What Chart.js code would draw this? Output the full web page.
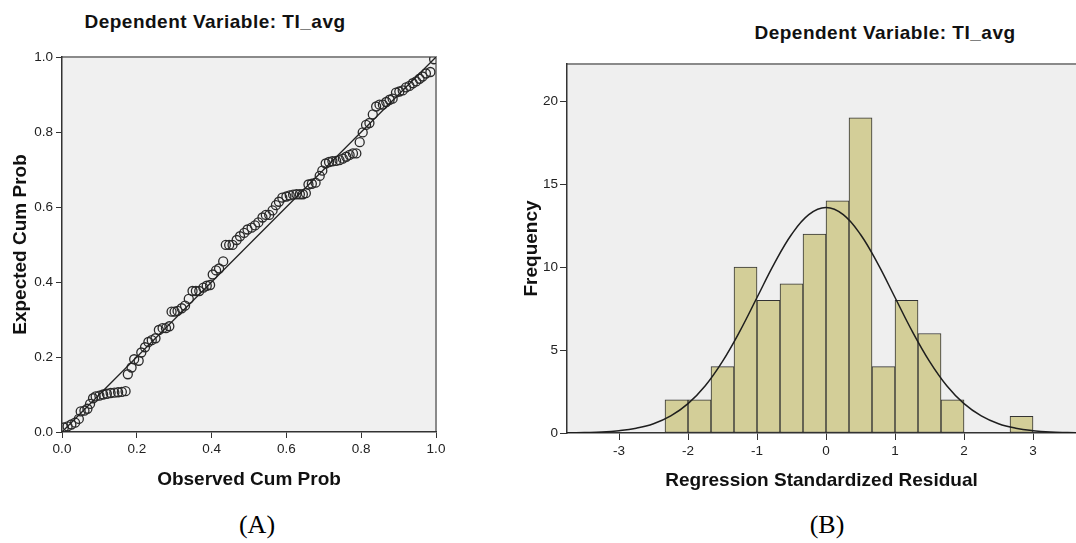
<!DOCTYPE html>
<html>
<head>
<meta charset="utf-8">
<title>Dependent Variable: TI_avg</title>
<script src="https://cdn.jsdelivr.net/npm/chart.js@4/dist/chart.umd.min.js"></script>
<style>
    html, body { margin: 0; padding: 0; background: #fff; overflow: hidden; }
    body { position: relative; width: 1076px; height: 543px; font-family: "Liberation Sans", Arial, sans-serif; }
    .wrap { position: absolute; top: 0; height: 500px; }
    #wrapA { left: 0; width: 450px; }
    #wrapB { left: 500px; width: 576px; }
    .ttl { position: absolute; font-size: 19px; font-weight: bold; color: #111; white-space: nowrap; letter-spacing: 0.5px; transform: translate(-50%, -50%); }
    .cap { position: absolute; font-family: "Liberation Serif", "Times New Roman", serif; font-size: 26px; color: #000; transform: translate(-50%, -50%); }
</style>
</head>
<body>
<div class="ttl" style="left:215px; top:22px;">Dependent Variable: TI_avg</div>
<div class="ttl" style="left:885px; top:33px;">Dependent Variable: TI_avg</div>
<div class="wrap" id="wrapA"><canvas id="pp-plot" width="450" height="500"></canvas></div>
<div class="wrap" id="wrapB"><canvas id="resid-hist" width="576" height="500"></canvas></div>
<div class="cap" style="left:257px; top:525px;">(A)</div>
<div class="cap" style="left:827px; top:525px;">(B)</div>

<script>
    // (A) normal P-P plot
    var ppObserved = [
        0.005, 0.015, 0.025, 0.035, 0.045, 0.050, 0.060, 0.068, 0.075, 0.083,
        0.090, 0.100, 0.110, 0.120, 0.130, 0.140, 0.150, 0.160, 0.170,
        0.176, 0.186, 0.193, 0.205, 0.212, 0.222, 0.231, 0.240, 0.250, 0.259, 0.269, 0.278, 0.287,
        0.293, 0.301, 0.309, 0.320, 0.329, 0.339, 0.349, 0.358, 0.367, 0.378, 0.387, 0.396,
        0.403, 0.412, 0.420, 0.431,
        0.438, 0.447, 0.456, 0.467, 0.476, 0.487, 0.496, 0.507, 0.516, 0.525, 0.536, 0.545,
        0.554, 0.563, 0.572, 0.580, 0.589, 0.600, 0.609, 0.618, 0.627, 0.636, 0.644, 0.652,
        0.659, 0.668, 0.678, 0.689, 0.696, 0.705, 0.714, 0.723, 0.733, 0.742, 0.751, 0.760,
        0.769, 0.778, 0.787,
        0.796, 0.804, 0.813, 0.822, 0.831, 0.840, 0.849, 0.858, 0.867, 0.876, 0.884, 0.893,
        0.902, 0.911, 0.920, 0.929, 0.938, 0.947, 0.956, 0.964, 0.973, 0.985, 0.995
    ];
    var ppExpected = [
        0.012, 0.015, 0.020, 0.025, 0.035, 0.055, 0.057, 0.062, 0.075, 0.090,
        0.095, 0.097, 0.100, 0.102, 0.104, 0.105, 0.106, 0.107, 0.109,
        0.154, 0.172, 0.194, 0.190, 0.212, 0.226, 0.240, 0.245, 0.250, 0.272, 0.277, 0.277, 0.282,
        0.321, 0.321, 0.323, 0.330, 0.337, 0.355, 0.376, 0.376, 0.376, 0.385, 0.390, 0.392,
        0.420, 0.431, 0.436, 0.455,
        0.499, 0.499, 0.499, 0.512, 0.522, 0.531, 0.540, 0.545, 0.551, 0.559, 0.572, 0.579,
        0.579, 0.591, 0.605, 0.614, 0.625, 0.628, 0.631, 0.633, 0.634, 0.634, 0.634, 0.637,
        0.660, 0.662, 0.665, 0.683, 0.697, 0.716, 0.720, 0.722, 0.723, 0.725, 0.729, 0.734,
        0.739, 0.743, 0.743,
        0.773, 0.799, 0.819, 0.824, 0.847, 0.868, 0.873, 0.873, 0.880, 0.886, 0.889, 0.905,
        0.908, 0.911, 0.919, 0.923, 0.930, 0.935, 0.942, 0.948, 0.956, 0.960, 0.994
    ];
    var refLineX = [0, 1];
    var refLineY = [0, 1];
    var ppTicks = [0, 0.2, 0.4, 0.6, 0.8, 1.0];

    // (B) histogram of standardized residuals
    var binCenters = [-2.1667, -1.8333, -1.5, -1.1667, -0.8333, -0.5, -0.1667, 0.1667,
                      0.5, 0.8333, 1.1667, 1.5, 1.8333, 2.1667, 2.5, 2.8333];
    var binCounts = [2, 2, 4, 10, 8, 9, 12, 14, 19, 4, 8, 6, 2, 0, 0, 1];
    var curveX = [-3.75, -3.5, -3.25, -3, -2.75, -2.5, -2.25, -2, -1.75, -1.5, -1.25, -1, -0.75, -0.5, -0.25,
                  0, 0.25, 0.5, 0.75, 1, 1.25, 1.5, 1.75, 2, 2.25, 2.5, 2.75, 3, 3.25, 3.5, 3.75];
    var curveY = [0.01, 0.03, 0.06, 0.14, 0.29, 0.56, 1.03, 1.77, 2.85, 4.32, 6.13, 8.17, 10.21, 11.97, 13.17,
                  13.6, 13.17, 11.97, 10.21, 8.17, 6.13, 4.32, 2.85, 1.77, 1.03, 0.56, 0.29, 0.14, 0.06, 0.03, 0.01];
    var residTicks = [-3, -2, -1, 0, 1, 2, 3];
    var freqTicks = [0, 5, 10, 15, 20];

    var FONT = '"Liberation Sans", Arial, sans-serif';
    Chart.defaults.font.family = FONT;
    Chart.defaults.animation = false;

    // grey plot background plus the frame on top (and right)
    var plotFrame = {
        id: 'plotFrame',
        beforeDraw: function(chart, args, opts) {
            var a = chart.chartArea;
            var ctx = chart.ctx;
            ctx.save();
            ctx.fillStyle = opts.fill;
            ctx.fillRect(a.left, a.top, a.right - a.left, a.bottom - a.top);
            ctx.strokeStyle = opts.stroke;
            ctx.lineWidth = opts.width;
            ctx.beginPath();
            ctx.moveTo(a.left, a.top);
            ctx.lineTo(a.right, a.top);
            if (opts.right) {
                ctx.lineTo(a.right, a.bottom);
            }
            ctx.stroke();
            ctx.restore();
        }
    };

    function axisTicks(list) {
        return function(scale) {
            scale.ticks = list.map(function(v) { return { value: v }; });
        };
    }

    function toPoints(xs, ys) {
        return xs.map(function(x, i) { return { x: x, y: ys[i] }; });
    }

    var tickFont = { family: FONT, size: 13.5 };
    var titleFont = { family: FONT, size: 19, weight: 'bold' };

    new Chart(document.getElementById('pp-plot'), {
        type: 'scatter',
        data: {
            datasets: [{
                label: 'Observed',
                data: toPoints(ppObserved, ppExpected),
                pointStyle: 'circle',
                pointRadius: 4.5,
                pointBorderWidth: 1.3,
                pointBorderColor: '#2a2a2a',
                pointBackgroundColor: 'rgba(0,0,0,0)',
                showLine: false,
                order: 1
            }, {
                type: 'line',
                label: 'Reference',
                data: toPoints(refLineX, refLineY),
                borderColor: '#222',
                borderWidth: 1.3,
                pointRadius: 0,
                fill: false,
                order: 0
            }]
        },
        options: {
            responsive: false,
            layout: { padding: { top: 57, right: 14, bottom: 0, left: 0 } },
            plugins: {
                legend: { display: false },
                tooltip: { enabled: false },
                plotFrame: { fill: '#f0f0f0', stroke: '#8a8a8a', width: 2, right: true }
            },
            scales: {
                x: {
                    type: 'linear',
                    min: 0,
                    max: 1,
                    afterBuildTicks: axisTicks(ppTicks),
                    afterFit: function(s) { s.height = 68; },
                    grid: { drawOnChartArea: false, tickLength: 6, color: '#333' },
                    border: { color: '#333', width: 1.5 },
                    ticks: {
                        color: '#222', font: tickFont, padding: 3, maxRotation: 0,
                        callback: function(v) { return Number(v).toFixed(1); }
                    },
                    title: { display: true, text: 'Observed Cum Prob', color: '#111', font: titleFont, padding: { top: 10, bottom: 9 } }
                },
                y: {
                    type: 'linear',
                    min: 0,
                    max: 1,
                    afterBuildTicks: axisTicks(ppTicks),
                    afterFit: function(s) { s.width = 62; },
                    grid: { drawOnChartArea: false, tickLength: 6, color: '#333' },
                    border: { color: '#333', width: 1.5 },
                    ticks: {
                        color: '#222', font: tickFont, padding: 3,
                        callback: function(v) { return Number(v).toFixed(1); }
                    },
                    title: { display: true, text: 'Expected Cum Prob', color: '#111', font: titleFont, padding: { top: 9, bottom: 10 } }
                }
            }
        },
        plugins: [plotFrame]
    });

    new Chart(document.getElementById('resid-hist'), {
        type: 'bar',
        data: {
            datasets: [{
                type: 'bar',
                label: 'Frequency',
                data: toPoints(binCenters, binCounts),
                backgroundColor: '#d3ce98',
                borderColor: '#333',
                borderWidth: 1,
                borderSkipped: false,
                barPercentage: 1,
                categoryPercentage: 1,
                order: 1
            }, {
                type: 'line',
                label: 'Normal',
                data: toPoints(curveX, curveY),
                borderColor: '#1e1e1e',
                borderWidth: 1.5,
                tension: 0.4,
                pointRadius: 0,
                fill: false,
                order: 0
            }]
        },
        options: {
            responsive: false,
            layout: { padding: { top: 64, right: 0, bottom: 0, left: 0 } },
            plugins: {
                legend: { display: false },
                tooltip: { enabled: false },
                plotFrame: { fill: '#efefef', stroke: '#8a8a8a', width: 2, right: false }
            },
            scales: {
                x: {
                    type: 'linear',
                    min: -3.754,
                    max: 3.623,
                    offset: false,
                    afterBuildTicks: axisTicks(residTicks),
                    afterFit: function(s) { s.height = 67; },
                    grid: { drawOnChartArea: false, offset: false, tickLength: 7, color: '#333' },
                    border: { color: '#333', width: 1.5 },
                    ticks: { color: '#222', font: tickFont, padding: 3, maxRotation: 0 },
                    title: { display: true, text: 'Regression Standardized Residual', color: '#111', font: titleFont, padding: { top: 10, bottom: 8 } }
                },
                y: {
                    type: 'linear',
                    min: 0,
                    max: 22.25,
                    afterBuildTicks: axisTicks(freqTicks),
                    afterFit: function(s) { s.width = 67; },
                    grid: { drawOnChartArea: false, tickLength: 7, color: '#333' },
                    border: { color: '#333', width: 1.5 },
                    ticks: { color: '#222', font: tickFont, padding: 2 },
                    title: { display: true, text: 'Frequency', color: '#111', font: titleFont, padding: { top: 20, bottom: 10 } }
                }
            }
        },
        plugins: [plotFrame]
    });
</script>
</body>
</html>
